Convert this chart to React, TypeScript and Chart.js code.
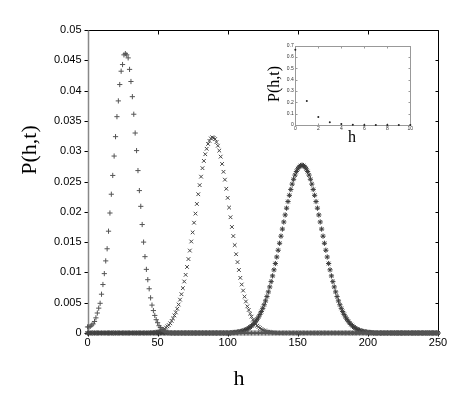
import React, { useEffect, useRef } from "react";
import { Chart, registerables } from "chart.js";
Chart.register(...registerables);

// P(h,t) for h = 0..250 (index = h)
const SERIES_PLUS = [
  0.001,0.001,0.0011,0.0013,0.0015,0.0019,0.0025,0.0033,0.0041,0.0049,
  0.0064,0.008,0.0098,0.0119,0.0139,0.0168,0.0198,0.0229,0.026,0.0292,
  0.0324,0.0357,0.0383,0.041,0.0432,0.0443,0.0459,0.0461,0.0459,0.0454,
  0.0435,0.0415,0.039,0.0361,0.033,0.0301,0.0268,0.0235,0.0209,0.0179,
  0.015,0.0126,0.0105,0.0088,0.0073,0.0058,0.0046,0.0037,0.0029,0.0022,
  0.0017,0.0012,0.0009,0.0006,0.0004,0.0003,0.0002,0.0001,0.00006,0.00003,
  0,0,0,0,0,0,0,0,0,0,
  0,0,0,0,0,0,0,0,0,0,
  0,0,0,0,0,0,0,0,0,0,
  0,0,0,0,0,0,0,0,0,0,
  0,0,0,0,0,0,0,0,0,0,
  0,0,0,0,0,0,0,0,0,0,
  0,0,0,0,0,0,0,0,0,0,
  0,0,0,0,0,0,0,0,0,0,
  0,0,0,0,0,0,0,0,0,0,
  0,0,0,0,0,0,0,0,0,0,
  0,0,0,0,0,0,0,0,0,0,
  0,0,0,0,0,0,0,0,0,0,
  0,0,0,0,0,0,0,0,0,0,
  0,0,0,0,0,0,0,0,0,0,
  0,0,0,0,0,0,0,0,0,0,
  0,0,0,0,0,0,0,0,0,0,
  0,0,0,0,0,0,0,0,0,0,
  0,0,0,0,0,0,0,0,0,0,
  0,0,0,0,0,0,0,0,0,0,
  0,
];

const SERIES_X = [
  0,0,0,0,0,0,0,0,0,0,
  0,0,0,0,0,0,0,0,0,0,
  0,0,0,0,0,0,0,0,0,0,
  0,0,0,0,0,0,0,0,0,0,
  0,0,0,0,0,
  0.00005,0.00007,0.00009,0.00012,0.00016,0.00021,0.00027,0.00035,0.00044,0.00056,
  0.0007,0.0009,0.0011,0.0013,0.0016,0.002,0.0024,0.0029,0.0034,0.004,
  0.0047,0.0055,0.0064,0.0074,0.0085,0.0096,0.0109,0.0122,0.0136,0.0151,
  0.0166,0.0182,0.0197,0.0213,0.0229,0.0244,0.0258,0.0272,0.0284,0.0295,
  0.0304,0.0312,0.0317,0.0321,0.0323,0.0322,0.032,0.0315,0.0309,0.0301,
  0.0291,0.0279,0.0266,0.0253,0.0238,0.0223,0.0207,0.0191,0.0175,0.016,
  0.0145,0.013,0.0117,0.0104,0.0091,0.008,0.007,0.006,0.0052,0.0044,
  0.0038,0.0032,0.0027,0.0022,0.0018,0.0015,0.0012,0.001,0.0008,0.00064,
  0.00051,0.0004,0.00032,0.00025,0.0002,0.00015,0.00011,0.00008,0.00006,0.00004,
  0,0,0,0,0,0,0,0,0,0,
  0,0,0,0,0,0,0,0,0,0,
  0,0,0,0,0,0,0,0,0,0,
  0,0,0,0,0,0,0,0,0,0,
  0,0,0,0,0,0,0,0,0,0,
  0,0,0,0,0,0,0,0,0,0,
  0,0,0,0,0,0,0,0,0,0,
  0,0,0,0,0,0,0,0,0,0,
  0,0,0,0,0,0,0,0,0,0,
  0,0,0,0,0,0,0,0,0,0,
  0,0,0,0,0,0,0,0,0,0,
  0,0,0,0,0,0,
];

const SERIES_STAR = [
  0,0,0,0,0,0,0,0,0,0,
  0,0,0,0,0,0,0,0,0,0,
  0,0,0,0,0,0,0,0,0,0,
  0,0,0,0,0,0,0,0,0,0,
  0,0,0,0,0,0,0,0,0,0,
  0,0,0,0,0,0,0,0,0,0,
  0,0,0,0,0,0,0,0,0,0,
  0,0,0,0,0,0,0,0,0,0,
  0,0,0,0,0,0,0,0,0,0,
  0,0,0,0,0,0,0,0,0,0,
  0,0,0,
  0.00006,0.00008,0.0001,0.00012,0.00016,0.0002,0.00024,0.0003,0.00037,0.00045,
  0.00055,0.00067,0.00081,0.00097,0.00117,0.00139,0.00164,0.00193,0.00227,0.00264,
  0.00307,0.00354,0.00407,0.00466,0.0053,0.00601,0.00678,0.0076,0.00848,0.00942,
  0.01042,0.01146,0.01254,0.01366,0.01481,0.01598,0.01715,0.01832,0.01948,0.0206,
  0.02169,0.02272,0.02369,0.02457,0.02537,0.02606,0.02664,0.0271,0.02743,0.02763,
  0.0277,0.02763,0.02743,0.0271,0.02664,0.02606,0.02537,0.02457,0.02369,0.02272,
  0.02169,0.0206,0.01948,0.01832,0.01715,0.01598,0.01481,0.01366,0.01254,0.01146,
  0.01042,0.00942,0.00848,0.0076,0.00678,0.00601,0.0053,0.00466,0.00407,0.00354,
  0.00307,0.00264,0.00227,0.00193,0.00164,0.00139,0.00117,0.00097,0.00081,0.00067,
  0.00055,0.00045,0.00037,0.0003,0.00024,0.0002,0.00016,0.00012,0.0001,0.00008,0.00006,
  0,0,0,0,0,0,0,0,0,0,
  0,0,0,0,0,0,0,0,0,0,
  0,0,0,0,0,0,0,0,0,0,
  0,0,0,0,0,0,0,0,0,0,
  0,0,0,0,0,0,0,
];

const X_TICKS = [0, 50, 100, 150, 200, 250];
const Y_TICKS = [0, 0.005, 0.01, 0.015, 0.02, 0.025, 0.03, 0.035, 0.04, 0.045, 0.05];

// inset
const INSET_H = [0, 1, 2, 3, 4, 5, 6, 7, 8, 9, 10];
const INSET_P = [0.665, 0.212, 0.071, 0.024, 0.008, 0.0027, 0.0009, 0.0003, 0.0001, 0.00003, 0.00001];
const INSET_X_TICKS = [0, 2, 4, 6, 8, 10];
const INSET_Y_TICKS = [0, 0.1, 0.2, 0.3, 0.4, 0.5, 0.6, 0.7];

const SANS = "'Liberation Sans', Arial, sans-serif";
const SERIF = "'Liberation Serif', 'Times New Roman', serif";

const toPts = (arr: number[]) => arr.map((v, i) => ({ x: i, y: v }));
const fmt = (v: number, d: number) => String(Number(v.toFixed(d)));

const mainFrame = {
  id: "mainFrame",
  beforeDatasetsDraw(chart: any) {
    const { ctx, chartArea } = chart;
    const { left, right, top, bottom } = chartArea;
    const x = chart.scales.x;
    const y = chart.scales.y;
    ctx.save();
    ctx.lineWidth = 1;
    ctx.strokeStyle = "#000";
    const T = Math.round(top) + 0.5;
    const R = Math.round(right) + 0.5;
    const B = Math.round(bottom) + 0.5;
    const L = Math.round(left) + 0.5;
    ctx.beginPath();
    ctx.moveTo(L, T); ctx.lineTo(R, T); ctx.lineTo(R, B); ctx.lineTo(L, B);
    ctx.stroke();
    ctx.beginPath();
    Y_TICKS.forEach((v) => {
      const py = Math.round(y.getPixelForValue(v)) + 0.5;
      ctx.moveTo(L - 4, py); ctx.lineTo(L, py);
      ctx.moveTo(R - 3, py); ctx.lineTo(R, py);
    });
    X_TICKS.forEach((v) => {
      const px = Math.round(x.getPixelForValue(v)) + 0.5;
      ctx.moveTo(px, T); ctx.lineTo(px, T + 4);
      ctx.moveTo(px, B); ctx.lineTo(px, B + 3);
    });
    ctx.stroke();
    ctx.strokeStyle = "#888";
    ctx.lineWidth = 1.5;
    ctx.beginPath();
    ctx.moveTo(L, T); ctx.lineTo(L, B);
    ctx.stroke();
    ctx.restore();
  },
  afterDraw(chart: any) {
    const { ctx } = chart;
    ctx.save();
    ctx.fillStyle = "#000";
    ctx.font = `22px ${SERIF}`;
    ctx.textAlign = "center";
    ctx.textBaseline = "alphabetic";
    ctx.fillText("h", 239, 385);
    ctx.translate(36, 150);
    ctx.rotate(-Math.PI / 2);
    ctx.fillText("P(h,t)", 0, 0);
    ctx.restore();
  },
};

const insetFrame = {
  id: "insetFrame",
  beforeDatasetsDraw(chart: any) {
    const { ctx, chartArea } = chart;
    const { left, right, top, bottom } = chartArea;
    const x = chart.scales.x;
    const y = chart.scales.y;
    ctx.save();
    ctx.lineWidth = 1;
    ctx.strokeStyle = "#999";
    const T = Math.round(top) + 0.5;
    const R = Math.round(right) + 0.5;
    const B = Math.round(bottom) + 0.5;
    const L = Math.round(left) + 0.5;
    ctx.strokeRect(L, T, R - L, B - T);
    ctx.beginPath();
    INSET_Y_TICKS.forEach((v) => {
      const py = Math.round(y.getPixelForValue(v)) + 0.5;
      ctx.moveTo(L, py); ctx.lineTo(L + 2, py);
      ctx.moveTo(R - 2, py); ctx.lineTo(R, py);
    });
    INSET_X_TICKS.forEach((v) => {
      const px = Math.round(x.getPixelForValue(v)) + 0.5;
      ctx.moveTo(px, T); ctx.lineTo(px, T + 2);
      ctx.moveTo(px, B); ctx.lineTo(px, B - 2);
    });
    ctx.stroke();
    ctx.restore();
  },
  afterDraw(chart: any) {
    const { ctx } = chart;
    ctx.save();
    ctx.fillStyle = "#000";
    ctx.textAlign = "center";
    ctx.textBaseline = "alphabetic";
    ctx.font = `16px ${SERIF}`;
    ctx.fillText("h", 97, 104);
    ctx.font = `16px ${SERIF}`;
    ctx.translate(24, 46);
    ctx.rotate(-Math.PI / 2);
    ctx.fillText("P(h,t)", 0, 0);
    ctx.restore();
  },
};

export default function App() {
  const mainRef = useRef<HTMLCanvasElement>(null);
  const insetRef = useRef<HTMLCanvasElement>(null);

  useEffect(() => {
    const main = new Chart(mainRef.current as HTMLCanvasElement, {
      type: "scatter",
      data: {
        datasets: [
          {
            data: toPts(SERIES_PLUS),
            pointStyle: "cross",
            pointRadius: 2.6,
            borderColor: "#555",
            backgroundColor: "#555",
            pointBorderWidth: 1,
            showLine: false,
            clip: false,
          } as any,
          {
            data: toPts(SERIES_X),
            pointStyle: "crossRot",
            pointRadius: 2.6,
            borderColor: "#444",
            backgroundColor: "#444",
            pointBorderWidth: 1,
            showLine: false,
            clip: false,
          } as any,
          {
            data: toPts(SERIES_STAR),
            pointStyle: "star",
            pointRadius: 2.6,
            borderColor: "#3a3a3a",
            backgroundColor: "#3a3a3a",
            pointBorderWidth: 1,
            showLine: false,
            clip: false,
          } as any,
        ],
      },
      options: {
        responsive: false,
        animation: false,
        devicePixelRatio: 1,
        events: [],
        layout: { padding: { left: 0, top: 30, right: 33, bottom: 0 } },
        plugins: { legend: { display: false }, tooltip: { enabled: false } },
        scales: {
          x: {
            type: "linear",
            min: 0,
            max: 250,
            afterBuildTicks: (s: any) => { s.ticks = X_TICKS.map((v) => ({ value: v })); },
            afterFit: (s: any) => { s.height = 63; },
            grid: { display: false, drawTicks: false },
            border: { display: false },
            ticks: {
              font: { family: SANS, size: 11 },
              color: "#000",
              padding: 3,
              maxRotation: 0,
              callback: (v: any) => fmt(Number(v), 0),
            },
          },
          y: {
            type: "linear",
            min: 0,
            max: 0.05,
            afterBuildTicks: (s: any) => { s.ticks = Y_TICKS.map((v) => ({ value: v })); },
            afterFit: (s: any) => { s.width = 87.5; },
            grid: { display: false, drawTicks: false },
            border: { display: false },
            ticks: {
              font: { family: SANS, size: 11 },
              color: "#000",
              padding: 6,
              callback: (v: any) => fmt(Number(v), 3),
            },
          },
        },
      } as any,
      plugins: [mainFrame],
    });

    const inset = new Chart(insetRef.current as HTMLCanvasElement, {
      type: "scatter",
      data: {
        datasets: [
          {
            data: INSET_H.map((h, i) => ({ x: h, y: INSET_P[i] })),
            pointStyle: "circle",
            pointRadius: 1,
            pointBorderWidth: 0,
            backgroundColor: "#222",
            borderColor: "#222",
            showLine: false,
            clip: false,
          } as any,
        ],
      },
      options: {
        responsive: false,
        animation: false,
        devicePixelRatio: 1,
        events: [],
        layout: { padding: { left: 0, top: 7.7, right: 9.7, bottom: 0 } },
        plugins: { legend: { display: false }, tooltip: { enabled: false } },
        scales: {
          x: {
            type: "linear",
            min: 0,
            max: 10,
            afterBuildTicks: (s: any) => { s.ticks = INSET_X_TICKS.map((v) => ({ value: v })); },
            afterFit: (s: any) => { s.height = 21; },
            grid: { display: false, drawTicks: false },
            border: { display: false },
            ticks: {
              font: { family: SANS, size: 5 },
              color: "#333",
              padding: 1,
              maxRotation: 0,
              callback: (v: any) => fmt(Number(v), 0),
            },
          },
          y: {
            type: "linear",
            min: 0,
            max: 0.7,
            afterBuildTicks: (s: any) => { s.ticks = INSET_Y_TICKS.map((v) => ({ value: v })); },
            afterFit: (s: any) => { s.width = 40.3; },
            grid: { display: false, drawTicks: false },
            border: { display: false },
            ticks: {
              font: { family: SANS, size: 5 },
              color: "#333",
              padding: 1.5,
              callback: (v: any) => fmt(Number(v), 1),
            },
          },
        },
      } as any,
      plugins: [insetFrame],
    });

    return () => {
      main.destroy();
      inset.destroy();
    };
  }, []);

  return (
    <div style={{ position: "absolute", left: 0, top: 0, width: 471, height: 396, background: "#fff" }}>
      <canvas ref={mainRef} width={471} height={396} style={{ position: "absolute", left: 0, top: 0 }} />
      <canvas ref={insetRef} width={165} height={108} style={{ position: "absolute", left: 255, top: 38 }} />
    </div>
  );
}
